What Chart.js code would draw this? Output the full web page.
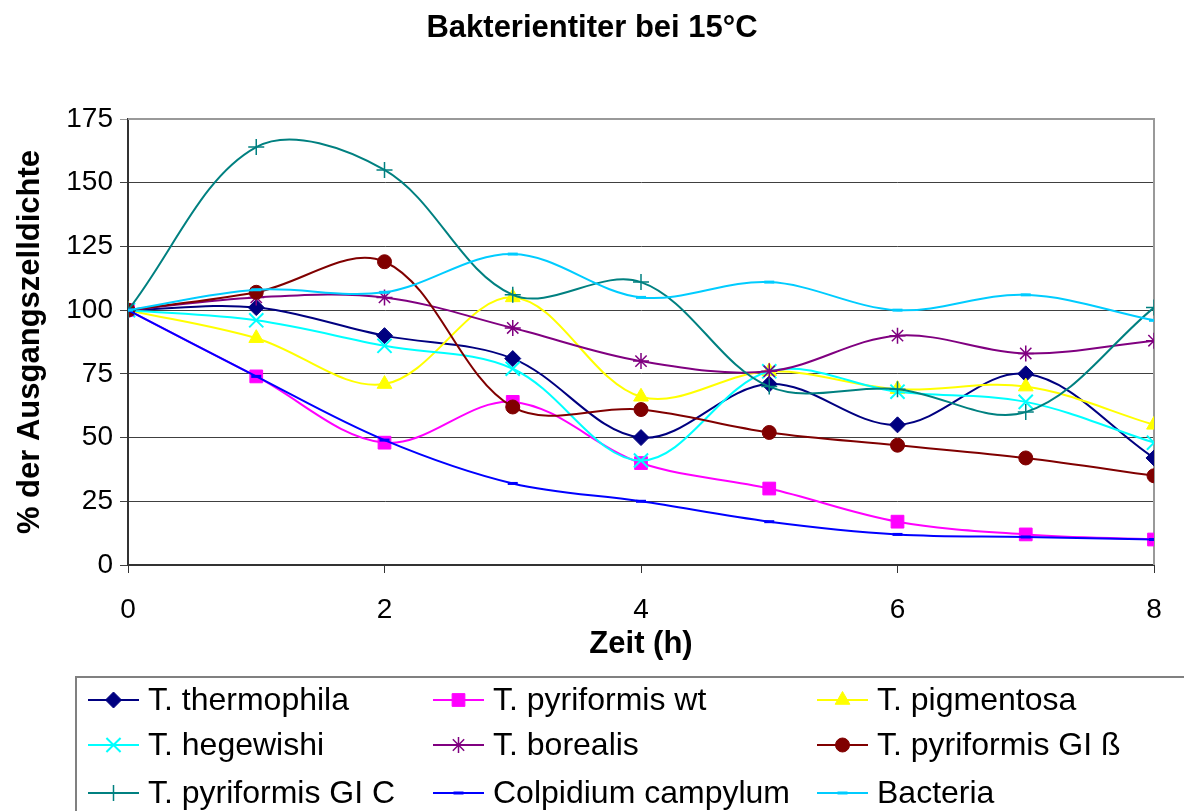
<!DOCTYPE html>
<html>
<head>
<meta charset="utf-8">
<title>Bakterientiter bei 15°C</title>
<script src="https://cdn.jsdelivr.net/npm/chart.js@4"></script>
<style>
  html, body { margin: 0; padding: 0; background: #fff; }
  #wrap { width: 1184px; height: 811px; position: relative; }
</style>
</head>
<body>
<div id="wrap"><canvas id="chart" width="1184" height="811"></canvas></div>
<script>
// ── Data ───────────────────────────────────────────────────────────────
const hours = [0, 1, 2, 3, 4, 5, 6, 7, 8];

const thermophila  = [100, 101, 90, 81, 50, 71, 55, 75, 42];
const pyriformisWt = [100, 74, 48, 64, 40, 30, 17, 12, 10];
const pigmentosa   = [100, 89, 71, 105, 66, 76, 69, 70, 55];
const hegewishi    = [100, 96, 86, 77, 41, 76, 68, 64, 48];
const borealis     = [100, 105, 105, 93, 80, 76, 90, 83, 88];
const pyriformisGB = [100, 107, 119, 62, 61, 52, 47, 42, 35];
const pyriformisGC = [100, 164, 155, 106, 111, 70, 69, 60, 101];
const colpidium    = [100, 74, 49, 32, 25, 17, 12, 11, 10];
const bacteria     = [100, 108, 107, 122, 105, 111, 100, 106, 96];

const seriesNames = [
  'T. thermophila', 'T. pyriformis wt', 'T. pigmentosa',
  'T. hegewishi', 'T. borealis', 'T. pyriformis GI ß',
  'T. pyriformis GI C', 'Colpidium campylum', 'Bacteria'
];
const seriesValues = [
  thermophila, pyriformisWt, pigmentosa,
  hegewishi, borealis, pyriformisGB,
  pyriformisGC, colpidium, bacteria
];
const chartTitle = 'Bakterientiter bei 15°C';

// ── Styles ─────────────────────────────────────────────────────────────
const COLORS = ['#000080', '#ff00ff', '#ffff00', '#00ffff', '#800080', '#800000', '#008080', '#0000ff', '#00ccff'];
const MARKERS = [
  { style: 'rectRot',  r: 8,   bw: 1 },
  { style: 'rect',     r: 9,   bw: 1 },
  { style: 'triangle', r: 8.5, bw: 1 },
  { style: 'crossRot', r: 10,  bw: 2 },
  { style: 'star',     r: 8,   bw: 1.5 },
  { style: 'circle',   r: 7,   bw: 1 },
  { style: 'cross',    r: 8,   bw: 1.5 },
  { style: 'line',     r: 5,   bw: 3 },
  { style: 'line',     r: 5,   bw: 3 }
];

const FONT = 'Liberation Sans, Arial, sans-serif';
Chart.defaults.font.family = FONT;
Chart.defaults.color = '#000';

// ── Plugins ────────────────────────────────────────────────────────────
// title centred on the whole canvas (the built-in one centres on the padded box)
const pageTitle = {
  id: 'pageTitle',
  afterDraw(chart) {
    const ctx = chart.ctx;
    ctx.save();
    ctx.font = 'bold 31px ' + FONT;
    ctx.fillStyle = '#000';
    ctx.textAlign = 'center';
    ctx.textBaseline = 'middle';
    ctx.fillText(chartTitle, chart.width / 2, 28);
    ctx.restore();
  }
};

const plotBorder = {
  id: 'plotBorder',
  beforeDatasetsDraw(chart) {
    const { ctx, chartArea: a } = chart;
    ctx.save();
    ctx.strokeStyle = '#999';
    ctx.lineWidth = 2;
    ctx.beginPath();
    ctx.moveTo(a.left, a.top);
    ctx.lineTo(a.right, a.top);
    ctx.lineTo(a.right, a.bottom);
    ctx.stroke();
    ctx.restore();
  }
};

const boxLegend = {
  id: 'boxLegend',
  afterDraw(chart) {
    const ctx = chart.ctx;
    const colX = [88, 433, 817];
    const rowY = [700, 745, 793];
    ctx.save();
    ctx.strokeStyle = '#808080';
    ctx.lineWidth = 2;
    ctx.strokeRect(76, 677, 1120, 150);
    ctx.font = '32px ' + FONT;
    ctx.textBaseline = 'middle';
    chart.data.datasets.forEach((ds, i) => {
      const x = colX[i % 3];
      const y = rowY[Math.floor(i / 3)];
      ctx.strokeStyle = ds.borderColor;
      ctx.lineWidth = 2;
      ctx.beginPath();
      ctx.moveTo(x, y);
      ctx.lineTo(x + 51, y);
      ctx.stroke();
      ctx.fillStyle = ds.pointBackgroundColor;
      ctx.lineWidth = ds.pointBorderWidth;
      Chart.helpers.drawPoint(ctx, {
        pointStyle: ds.pointStyle, radius: ds.pointRadius, rotation: 0,
        borderWidth: ds.pointBorderWidth
      }, x + 25.5, y);
      ctx.fillStyle = '#000';
      ctx.fillText(ds.label, x + 60, y + 1);
    });
    ctx.restore();
  }
};

// ── Chart ──────────────────────────────────────────────────────────────
const datasets = seriesNames.map((name, i) => ({
  label: name,
  data: hours.map((h, j) => ({ x: h, y: seriesValues[i][j] })),
  borderColor: COLORS[i],
  backgroundColor: COLORS[i],
  pointBackgroundColor: COLORS[i],
  borderWidth: 2,
  tension: 0.35,
  pointStyle: MARKERS[i].style,
  pointRadius: MARKERS[i].r,
  pointBorderWidth: MARKERS[i].bw,
  order: seriesNames.length - i
}));

new Chart(document.getElementById('chart'), {
  type: 'line',
  data: { datasets },
  plugins: [plotBorder, boxLegend, pageTitle],
  options: {
    responsive: false,
    animation: false,
    layout: { padding: { left: 0, right: 30, top: 119, bottom: 146 } },
    plugins: {
      legend: { display: false },
      tooltip: { enabled: false },
      title: { display: false }
    },
    scales: {
      x: {
        type: 'linear',
        min: 0, max: 8,
        ticks: { stepSize: 2, font: { size: 28 }, padding: 20, maxRotation: 0 },
        grid: { drawOnChartArea: false, tickLength: 8, color: '#333' },
        border: { color: '#333', width: 2 },
        title: {
          display: true, text: 'Zeit (h)',
          font: { size: 31, weight: 'bold' },
          padding: { top: 0, bottom: 2.4 }
        },
        afterFit(s) { s.height = 100; }
      },
      y: {
        min: 0, max: 175,
        ticks: { stepSize: 25, font: { size: 28 }, padding: 7 },
        grid: {
          tickLength: 8,
          color: c => (c.tick && c.tick.value === 175) ? '#999' : '#404040'
        },
        border: { color: '#333', width: 2 },
        title: {
          display: true, text: '% der Ausgangszelldichte',
          font: { size: 31, weight: 'bold' },
          padding: { top: 11.4, bottom: 0 }
        },
        afterFit(s) { s.width = 128; }
      }
    }
  }
});
</script>
</body>
</html>
